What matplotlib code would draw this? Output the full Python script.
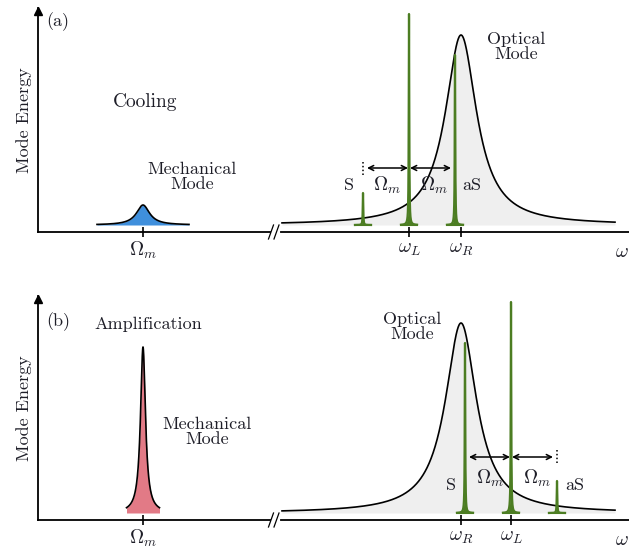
import numpy as np
import matplotlib.pyplot as plt

plt.rcParams['font.family'] = ['cmr10', 'DejaVu Serif']
plt.rcParams['mathtext.fontset'] = 'cm'
plt.rcParams['axes.unicode_minus'] = False

# frequency positions (arbitrary units)
omega_mech = 10.5
omega_R = 42.3
omega_L = [37.1, 47.3]          # (a) red-detuned, (b) blue-detuned
Omega_m = 4.6                   # sideband spacing

# mode heights above the baseline (arbitrary units)
baseline = 0.07
optical_height = 1.90
optical_gamma = 1.9
mech_height = [0.20, 1.66]
mech_gamma = [0.8, 0.3]
mech_span = [4.6, 1.65]
# spike heights: Stokes, pump, anti-Stokes
spike_heights = [[0.32, 2.11, 1.70],
                 [1.70, 2.11, 0.32]]

panel_tags = ['(a)', '(b)']
regime_labels = ['Cooling', 'Amplification']
mech_colors = ['#3f8fdc', '#e27a86']
green = '#4c7d22'
ink = '#1e1e28'


def lorentz(x, x0, gamma, amp):
    return baseline + amp * gamma**2 / ((x - x0)**2 + gamma**2)


def spike(ax, x0, amp):
    x = x0 + np.linspace(-0.8, 0.8, 1601)
    y = lorentz(x, x0, 0.03, amp)
    ax.fill_between(x, baseline, y, color=green, lw=0, zorder=4)
    ax.plot(x, y, color=green, lw=1.6, zorder=4)
    ax.plot([x0 - 0.8, x0 + 0.8], [baseline, baseline], color=green, lw=1.5, zorder=4)


def draw_panel(ax, i):
    ax.set_xlim(0, 59.1)
    ax.set_ylim(0, 2.24)
    for s in ['top', 'right']:
        ax.spines[s].set_visible(False)
    for s in ['left', 'bottom']:
        ax.spines[s].set_linewidth(1.3)
    ax.plot(0, 2.21, marker='^', ms=6, color='k', clip_on=False, zorder=6)
    ax.set_yticks([])

    # axis break
    ax.plot([23.45, 23.95], [0, 0], color='white', lw=3, clip_on=False, zorder=6)
    for dx in [23.3, 23.85]:
        ax.plot([dx - 0.25, dx + 0.25], [-0.07, 0.07], color='k', lw=0.9,
                clip_on=False, zorder=7)

    # mechanical mode
    xm = np.linspace(omega_mech - mech_span[i], omega_mech + mech_span[i], 800)
    ym = lorentz(xm, omega_mech, mech_gamma[i], mech_height[i])
    ax.fill_between(xm, baseline, ym, color=mech_colors[i], lw=0, zorder=2)
    ax.plot(xm, ym, color='k', lw=1.2, zorder=3)

    # optical mode
    xo = np.linspace(24.4, 57.7, 1500)
    yo = lorentz(xo, omega_R, optical_gamma, optical_height)
    ax.fill_between(xo, baseline, yo, color='#efefef', lw=0, zorder=1)
    ax.plot(xo, yo, color='k', lw=1.2, zorder=3)

    # pump and sidebands
    wl = omega_L[i]
    for pos, h in zip([wl - Omega_m, wl, wl + Omega_m], spike_heights[i]):
        spike(ax, pos, h)

    # sideband spacing arrows
    ya = 0.64 if i == 0 else 0.63
    arrow = dict(arrowstyle='<->', color='k', lw=1.1, mutation_scale=9,
                 shrinkA=0, shrinkB=0)
    ax.annotate('', xy=(wl - Omega_m + 0.4, ya), xytext=(wl - 0.1, ya), arrowprops=arrow)
    ax.annotate('', xy=(wl + 0.1, ya), xytext=(wl + Omega_m - 0.4, ya), arrowprops=arrow)
    xd = wl - Omega_m if i == 0 else wl + Omega_m
    ax.plot([xd, xd], [0.57, 0.70], color='k', lw=1.1, ls=(0, (1, 1.5)), zorder=5)

    # ticks
    ax.set_xticks([omega_mech, omega_L[i], omega_R])
    ax.set_xticklabels([r'$\Omega_m$', r'$\omega_L$', r'$\omega_R$'], fontsize=14, color=ink)
    ax.tick_params(axis='x', direction='inout', length=7, width=1.2, pad=2)
    ax.text(58.4, -0.2, r'$\omega$', fontsize=14, color=ink, ha='center', va='center')

    ax.set_ylabel('Mode Energy', fontsize=13, color=ink, labelpad=4)

    fs = 13
    ax.text(2.0, 2.10 if i == 0 else 1.98, panel_tags[i], fontsize=fs, color=ink,
            ha='center', va='center')
    if i == 0:
        ax.text(10.7, 1.30, regime_labels[0], fontsize=14, color=ink, ha='center', va='center')
        ax.text(15.4, 0.55, 'Mechanical\nMode', fontsize=fs, color=ink, ha='center',
                va='center', linespacing=1.0)
        ax.text(47.8, 1.85, 'Optical\nMode', fontsize=fs, color=ink, ha='center',
                va='center', linespacing=1.0)
        ax.text(31.1, 0.47, 'S', fontsize=fs, color=ink, ha='center', va='center')
        ax.text(34.9, 0.47, r'$\Omega_m$', fontsize=fs + 1, color=ink, ha='center', va='center')
        ax.text(39.6, 0.47, r'$\Omega_m$', fontsize=fs + 1, color=ink, ha='center', va='center')
        ax.text(43.4, 0.47, 'aS', fontsize=fs, color=ink, ha='center', va='center')
    else:
        ax.text(11.0, 1.96, regime_labels[1], fontsize=fs, color=ink, ha='center', va='center')
        ax.text(16.9, 0.88, 'Mechanical\nMode', fontsize=fs, color=ink, ha='center',
                va='center', linespacing=1.0)
        ax.text(37.4, 1.93, 'Optical\nMode', fontsize=fs, color=ink, ha='center',
                va='center', linespacing=1.0)
        ax.text(41.3, 0.35, 'S', fontsize=fs, color=ink, ha='center', va='center')
        ax.text(45.2, 0.42, r'$\Omega_m$', fontsize=fs + 1, color=ink, ha='center', va='center')
        ax.text(49.9, 0.42, r'$\Omega_m$', fontsize=fs + 1, color=ink, ha='center', va='center')
        ax.text(53.7, 0.35, 'aS', fontsize=fs, color=ink, ha='center', va='center')


fig = plt.figure(figsize=(6.29, 5.5), dpi=100)
ax_a = fig.add_axes([38 / 629, 318 / 550, 591 / 629, 224 / 550])
ax_b = fig.add_axes([38 / 629, 30 / 550, 591 / 629, 224 / 550])
draw_panel(ax_a, 0)
draw_panel(ax_b, 1)

fig.savefig('out.png', dpi=100)
